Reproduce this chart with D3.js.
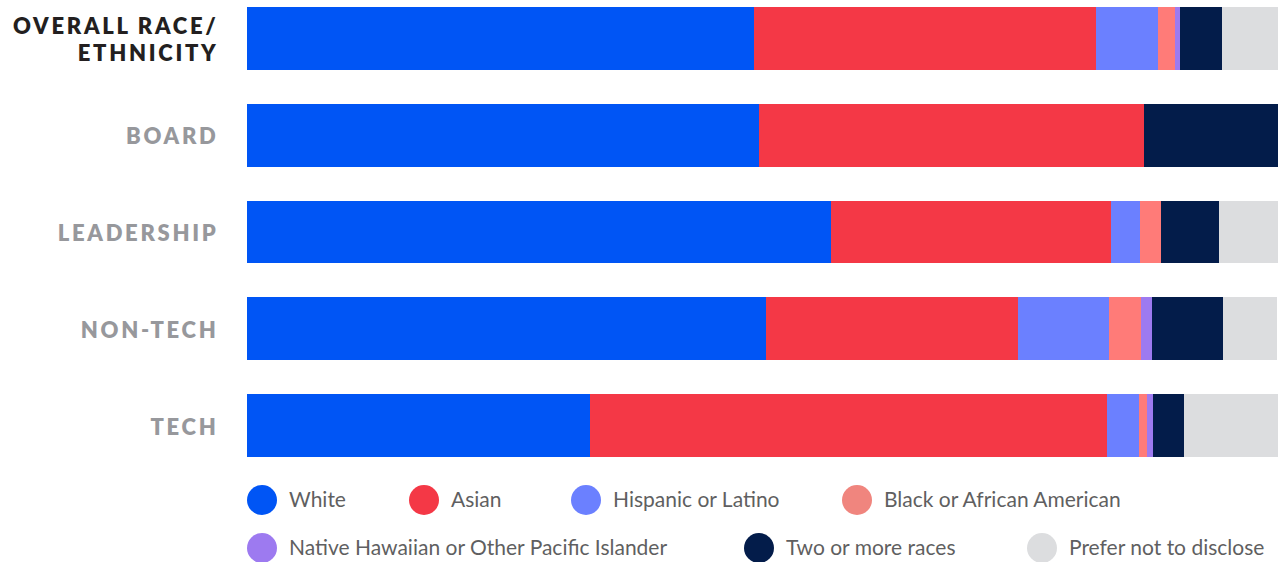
<!DOCTYPE html>
<html>
<head>
<meta charset="utf-8">
<script src="https://cdn.jsdelivr.net/npm/d3@7"></script>
<style>
  body { margin: 0; background: #fff; }
  svg { display: block; }
</style>
</head>
<body>
<div id="chart"></div>
<script>
// groups, top to bottom
var groups = ["OVERALL RACE/ETHNICITY", "BOARD", "LEADERSHIP", "NON-TECH", "TECH"]
var labelLines = [["OVERALL RACE/", "ETHNICITY"], ["BOARD"], ["LEADERSHIP"], ["NON-TECH"], ["TECH"]]

var races = ["White", "Asian", "Hispanic or Latino", "Black or African American",
  "Native Hawaiian or Other Pacific Islander", "Two or more races", "Prefer not to disclose"]

// percent share per group
var white    = [49.2, 49.7, 56.6, 50.3, 33.3]
var asian    = [33.1, 37.3, 27.2, 24.5, 50.1]
var hispanic = [6.1, 0, 2.8, 8.8, 3.1]
var black    = [1.6, 0, 2.1, 3.1, 0.8]
var nhpi     = [0.5, 0, 0, 1.1, 0.6]
var twoplus  = [4.1, 13.0, 5.6, 6.9, 3.0]
var prefer   = [5.4, 0, 5.7, 5.2, 9.1]

var barColors = ["#0055f5", "#f43846", "#6b80ff", "#ff7b78", "#9d7af0", "#031c4a", "#dcdddf"]
var dotColors = ["#0055f5", "#f43846", "#6b80ff", "#f0857e", "#9d7af0", "#031c4a", "#dcdddf"]

var W = 1281, H = 562

var series = [white, asian, hispanic, black, nhpi, twoplus, prefer]
var rows = groups.map(function(g, i){
  var r = {group: g}
  races.forEach(function(k, j){ r[k] = series[j][i] })
  return r
})

var svg = d3.select("#chart").append("svg")
  .attr("width", W)
  .attr("height", H)

var x = d3.scaleLinear().domain([0, 100]).range([247, 1278])
var y = d3.scaleBand().domain(groups).range([7, 457]).paddingInner(0.35)
var color = d3.scaleOrdinal().domain(races).range(barColors)

var stacked = d3.stack().keys(races)(rows)

svg.selectAll("g.layer").data(stacked)
  .enter().append("g")
  .attr("class", "layer")
  .attr("fill", function(d){ return color(d.key) })
  .selectAll("rect").data(function(d){ return d })
  .enter().append("rect")
  .attr("x", function(d){ return x(d[0]) })
  .attr("width", function(d){ return Math.max(0, x(d[1]) - x(d[0])) })
  .attr("y", function(d){ return y(d.data.group) })
  .attr("height", y.bandwidth())
  .attr("shape-rendering", "crispEdges")

// category labels
var lineH = 27
var labelX = 218.5
svg.selectAll("text.cat").data(groups)
  .enter().append("text")
  .attr("class", "cat")
  .attr("x", labelX)
  .attr("y", function(d, i){
    var n = labelLines[i].length
    return y(d) + y.bandwidth() / 2 - (n - 1) * lineH / 2
  })
  .attr("text-anchor", "end")
  .attr("dominant-baseline", "central")
  .style("font-family", "Lato, 'Open Sans', sans-serif")
  .style("font-weight", 800)
  .style("font-size", "22px")
  .style("letter-spacing", "2.7px")
  .attr("fill", function(d, i){ return i == 0 ? "#231f20" : "#97989c" })
  .each(function(d, i){
    var t = d3.select(this)
    labelLines[i].forEach(function(s, k){
      t.append("tspan")
        .attr("x", labelX)
        .attr("dy", k == 0 ? 0 : lineH)
        .text(s)
    })
  })

// legend, two rows
var legendPos = [
  [262, 500], [424, 500], [586, 500], [857, 500],
  [262, 548], [759, 548], [1042, 548]
]

var leg = svg.selectAll("g.legend").data(races)
  .enter().append("g")
  .attr("class", "legend")
  .attr("transform", function(d, i){ return "translate(" + legendPos[i][0] + "," + legendPos[i][1] + ")" })

leg.append("circle")
  .attr("r", 15)
  .attr("fill", function(d, i){ return dotColors[i] })

leg.append("text")
  .attr("x", 27)
  .attr("dy", "0.35em")
  .style("font-family", "Lato, sans-serif")
  .style("font-size", "21px")
  .attr("fill", "#5f5f61")
  .text(function(d){ return d })
</script>
</body>
</html>
